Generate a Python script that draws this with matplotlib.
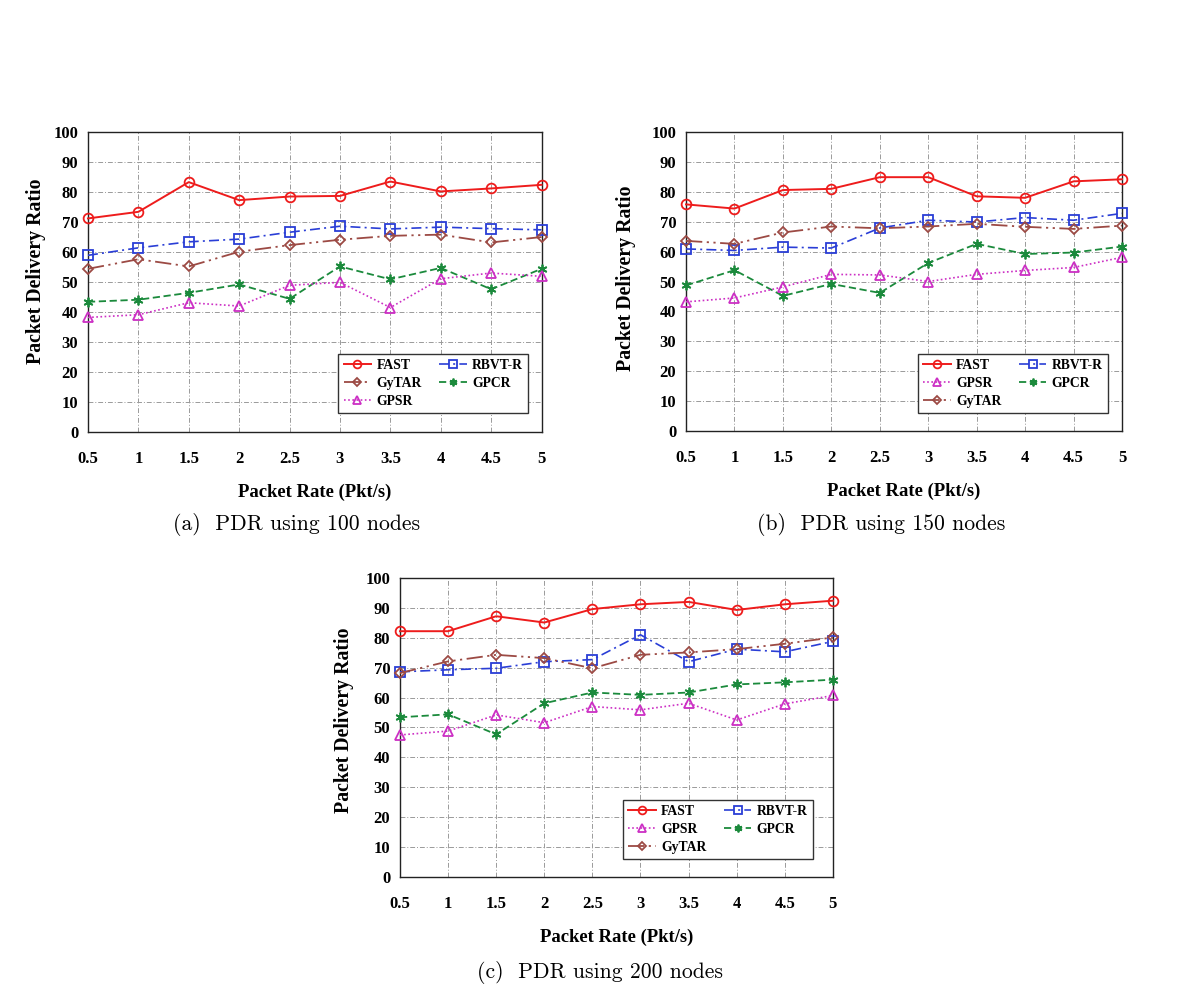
import matplotlib
matplotlib.use("Agg")
import matplotlib.pyplot as plt

x = [0.5, 1, 1.5, 2, 2.5, 3, 3.5, 4, 4.5, 5]
x_ticklabels = ["0.5", "1", "1.5", "2", "2.5", "3", "3.5", "4", "4.5", "5"]
y_ticks = [0, 10, 20, 30, 40, 50, 60, 70, 80, 90, 100]

# (a) 100 nodes
fast_100 = [71.2, 73.4, 83.3, 77.3, 78.5, 78.7, 83.5, 80.2, 81.2, 82.4]
rbvt_100 = [58.9, 61.4, 63.4, 64.3, 66.6, 68.6, 67.7, 68.3, 67.8, 67.4]
gytar_100 = [54.4, 57.6, 55.2, 60.1, 62.3, 64.1, 65.4, 65.8, 63.2, 65.0]
gpcr_100 = [43.4, 44.1, 46.4, 49.2, 44.4, 55.2, 50.9, 54.7, 47.6, 54.4]
gpsr_100 = [38.2, 39.1, 43.1, 42.0, 48.9, 49.9, 41.5, 51.1, 53.0, 51.9]

# (b) 150 nodes
fast_150 = [75.8, 74.4, 80.6, 81.0, 84.9, 84.9, 78.5, 78.0, 83.5, 84.2]
rbvt_150 = [60.9, 60.4, 61.5, 61.2, 67.9, 70.5, 69.9, 71.4, 70.5, 72.8]
gytar_150 = [63.6, 62.6, 66.4, 68.4, 67.8, 68.4, 69.3, 68.3, 67.6, 68.7]
gpcr_150 = [48.7, 53.8, 45.2, 49.2, 46.2, 56.2, 62.6, 59.2, 59.7, 61.7]
gpsr_150 = [43.2, 44.5, 48.2, 52.4, 52.2, 50.0, 52.4, 53.7, 54.7, 58.1]

# (c) 200 nodes
fast_200 = [82.2, 82.2, 87.2, 85.1, 89.6, 91.2, 92.0, 89.3, 91.2, 92.4]
rbvt_200 = [68.6, 69.3, 69.8, 72.0, 72.7, 81.0, 72.0, 76.2, 75.3, 78.8]
gytar_200 = [68.2, 72.1, 74.3, 73.2, 69.8, 74.3, 75.1, 76.2, 78.0, 80.1]
gpcr_200 = [53.4, 54.4, 47.7, 58.1, 61.7, 60.9, 61.7, 64.4, 65.1, 66.0]
gpsr_200 = [47.5, 48.8, 54.2, 51.6, 57.0, 55.9, 58.1, 52.5, 57.9, 60.7]

captions = ["(a)  PDR using 100 nodes", "(b)  PDR using 150 nodes", "(c)  PDR using 200 nodes"]
xlabel = "Packet Rate (Pkt/s)"
ylabel = "Packet Delivery Ratio"

styles = {
    "FAST": dict(color="#ee1c1c", ls="-", marker="o", lw=1.4),
    "RBVT-R": dict(color="#2a3ed6", ls=(0, (6, 2.5, 1.2, 2.5)), marker="s", lw=1.2),
    "GyTAR": dict(color="#9c4a44", ls=(0, (9, 2.5, 1.2, 2.5, 1.2, 2.5)), marker="D", lw=1.3, ms=5.5),
    "GPCR": dict(color="#1b8a3c", ls=(0, (4, 2)), marker=(6, 2, 0), lw=1.3),
    "GPSR": dict(color="#cc2fc4", ls=(0, (1, 1.5)), marker="^", lw=1.2),
}

serif = ["Liberation Serif", "DejaVu Serif"]

fig = plt.figure(figsize=(12, 10.01), dpi=100)
axes_rects = [
    [0.0733, 0.5684, 0.378, 0.2997],
    [0.5717, 0.5694, 0.3633, 0.2987],
    [0.3333, 0.1239, 0.3608, 0.2987],
]
datasets = [
    {"FAST": fast_100, "RBVT-R": rbvt_100, "GyTAR": gytar_100, "GPCR": gpcr_100, "GPSR": gpsr_100},
    {"FAST": fast_150, "RBVT-R": rbvt_150, "GyTAR": gytar_150, "GPCR": gpcr_150, "GPSR": gpsr_150},
    {"FAST": fast_200, "RBVT-R": rbvt_200, "GyTAR": gytar_200, "GPCR": gpcr_200, "GPSR": gpsr_200},
]
legend_orders = [
    ["FAST", "GyTAR", "GPSR", "RBVT-R", "GPCR"],
    ["FAST", "GPSR", "GyTAR", "RBVT-R", "GPCR"],
    ["FAST", "GPSR", "GyTAR", "RBVT-R", "GPCR"],
]
legend_anchor = [(0.971, 0.063), (0.968, 0.060), (0.954, 0.060)]
ylabel_coords = [(-0.092, 0.537), (-0.115, 0.512), (-0.106, 0.525)]
caption_pos = [(0.2475, 0.4765), (0.734, 0.4765), (0.5, 0.028)]

for i in range(3):
    ax = fig.add_axes(axes_rects[i])
    handles = {}
    for name in ["FAST", "RBVT-R", "GyTAR", "GPCR", "GPSR"]:
        st = dict(styles[name])
        ms = st.pop("ms", 7)
        (h,) = ax.plot(x, datasets[i][name], color=st["color"], linestyle=st["ls"],
                       marker=st["marker"], lw=st["lw"], markersize=ms,
                       markerfacecolor="none", markeredgecolor=st["color"],
                       markeredgewidth=1.3, label=name, zorder=3, clip_on=False)
        handles[name] = h
    ax.set_xlim(0.5, 5)
    ax.set_ylim(0, 100)
    ax.set_xticks(x)
    ax.set_xticklabels(x_ticklabels)
    ax.set_yticks(y_ticks)
    ax.grid(True, color="#9a9a9a", linestyle=(0, (5, 2, 1, 2)), linewidth=0.7)
    ax.set_axisbelow(True)
    for sp in ax.spines.values():
        sp.set_linewidth(1.0)
        sp.set_color("#222222")
    ax.tick_params(axis="x", length=0, pad=14)
    ax.tick_params(axis="y", length=0, pad=7)
    for lab in ax.get_xticklabels() + ax.get_yticklabels():
        lab.set_fontfamily(serif)
        lab.set_fontweight("bold")
        lab.set_fontsize(12)
    ax.set_xlabel(xlabel, fontfamily=serif, fontweight="bold", fontsize=13.4, labelpad=12)
    ax.set_ylabel(ylabel, fontfamily=serif, fontweight="bold", fontsize=14.3)
    ax.yaxis.set_label_coords(*ylabel_coords[i])
    order = legend_orders[i]
    leg = ax.legend([handles[n] for n in order], order, ncol=2, loc="lower right",
                    bbox_to_anchor=legend_anchor[i], borderaxespad=0, fancybox=False,
                    framealpha=1, edgecolor="#333333", handlelength=2.0,
                    columnspacing=1.3, handletextpad=0.4, labelspacing=0.35,
                    markerscale=0.8,
                    prop={"family": serif, "weight": "bold", "size": 9.8})
    leg.get_frame().set_linewidth(1.0)
    fig.text(caption_pos[i][0], caption_pos[i][1], captions[i], ha="center", va="center",
             fontfamily=["cmr10", "DejaVu Serif"], fontsize=15.6)

fig.savefig("out.png", dpi=100)
